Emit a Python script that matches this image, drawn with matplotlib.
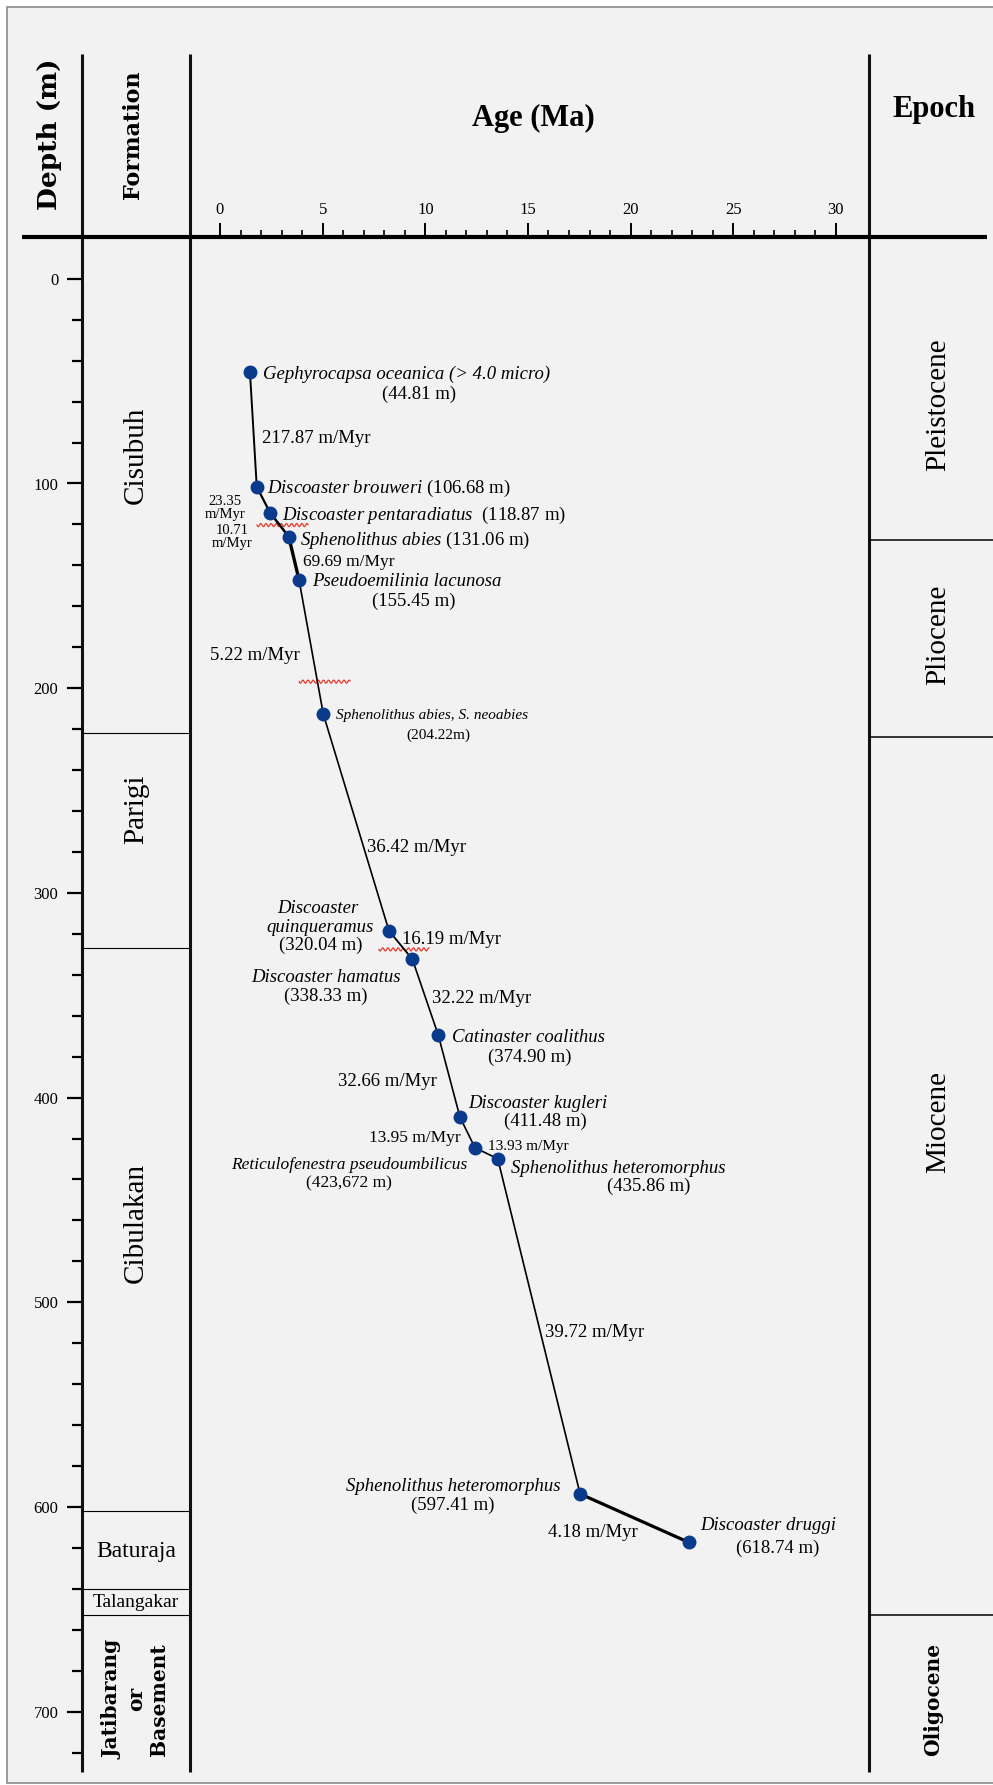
import numpy as np
import matplotlib
matplotlib.use("Agg")
import matplotlib.pyplot as plt
from matplotlib.patches import Rectangle

plt.rcParams['font.family'] = ['Liberation Serif', 'DejaVu Serif']
plt.rcParams['mathtext.fontset'] = 'custom'
plt.rcParams['mathtext.rm'] = 'Liberation Serif'
plt.rcParams['mathtext.it'] = 'Liberation Serif:italic'

W, H = 993, 1785

# --- data ---
# datums, age (Ma) and depth (m) as plotted
ages = [1.46, 1.79, 2.44, 3.35, 3.85, 5.03, 8.23, 9.37, 10.63, 11.69, 12.42, 13.53, 17.54, 22.84]
depths = [45.7, 101.6, 114.3, 126.0, 147.1, 212.6, 318.5, 332.4, 369.4, 409.6, 424.5, 429.9, 593.6, 617.3]
species = ['Gephyrocapsa oceanica (> 4.0 micro)', 'Discoaster brouweri', 'Discoaster pentaradiatus',
           'Sphenolithus abies', 'Pseudoemilinia lacunosa', 'Sphenolithus abies, S. neoabies',
           'Discoaster\nquinqueramus', 'Discoaster hamatus', 'Catinaster coalithus', 'Discoaster kugleri',
           'Reticulofenestra pseudoumbilicus', 'Sphenolithus heteromorphus', 'Sphenolithus heteromorphus',
           'Discoaster druggi']
depth_text = ['(44.81 m)', '(106.68 m)', '(118.87 m)', '(131.06 m)', '(155.45 m)', '(204.22m)', '(320.04 m)',
              '(338.33 m)', '(374.90 m)', '(411.48 m)', '(423,672 m)', '(435.86 m)', '(597.41 m)', '(618.74 m)']
rate_text = ['217.87 m/Myr', '23.35\nm/Myr', '10.71\nm/Myr', '69.69 m/Myr', '5.22 m/Myr', '36.42 m/Myr',
             '16.19 m/Myr', '32.22 m/Myr', '32.66 m/Myr', '13.95 m/Myr', '13.93 m/Myr', '39.72 m/Myr',
             '4.18 m/Myr']

# hiatus (red wavy) marks: depth, age from, age to
hiatus_depth = [120.3, 196.8, 327.6]
hiatus_from = [1.80, 3.85, 7.74]
hiatus_to = [4.29, 6.33, 10.18]

formation_names = ['Cisubuh', 'Parigi', 'Cibulakan', 'Baturaja', 'Talangakar', 'Jatibarang\nor\nBasement']
formation_bounds = [222, 327, 602, 640, 653]
formation_label_depth = [86, 259, 461, 621.5, 646.5, 694]

epoch_names = ['Pleistocene', 'Pliocene', 'Miocene', 'Oligocene']
epoch_bounds = [127.5, 224, 653]
epoch_label_depth = [61.6, 174, 412, 694]

age_major = list(range(0, 31, 5))
age_minor = [i for i in range(31) if i % 5]
depth_major = list(range(0, 701, 100))
depth_minor = [i for i in range(0, 721, 20) if i % 100]

# --- layout (pixels) ---
PX_ZERO, PX_PER_MA = 220.0, 20.53
PY_ZERO, PY_PER_M = 278.8, 2.047
TOP, BOT = 237, 1772
X_DEPTH, X_FORM, X_EPOCH = 82, 190, 869

def fx(p):
    return p / W

def fy(p):
    return 1 - p / H

def it(s):
    return r'$\mathit{' + s.replace(' ', r'\ ') + '}$'

fig = plt.figure(figsize=(W / 100, H / 100), dpi=100, facecolor='white')

# overlay in pixel coordinates
ov = fig.add_axes([0, 0, 1, 1], zorder=0)
ov.set_xlim(0, W)
ov.set_ylim(H, 0)
ov.axis('off')
ov.add_patch(Rectangle((7, 7), 1000, 1776, facecolor='#f2f2f2', edgecolor='#8a8a8a', lw=1.2))
for x in (X_DEPTH, X_FORM, X_EPOCH):
    ov.plot([x, x], [53.5, BOT], color='#111111', lw=2.2, solid_capstyle='butt')
ov.plot([22, 987], [TOP, TOP], color='black', lw=3, solid_capstyle='butt')

ov.text(50, 134, 'Depth (m)', rotation=90, ha='center', va='center', family='DejaVu Serif',
        weight='bold', fontsize=19)
ov.text(133, 135, 'Formation', rotation=90, ha='center', va='center', family='DejaVu Serif',
        weight='bold', fontsize=16)
ov.text(533, 118, 'Age (Ma)', ha='center', va='center', fontsize=22, weight='bold')
ov.text(934, 109, 'Epoch', ha='center', va='center', fontsize=22, weight='bold')

ylim = ((BOT - PY_ZERO) / PY_PER_M, (TOP - PY_ZERO) / PY_PER_M)
ax_h = (BOT - TOP) / H

# main age-depth panel
ax = fig.add_axes([fx(X_FORM), fy(BOT), (X_EPOCH - X_FORM) / W, ax_h], zorder=2)
ax.set_facecolor('none')
ax.set_xlim((X_FORM - PX_ZERO) / PX_PER_MA, (X_EPOCH - PX_ZERO) / PX_PER_MA)
ax.set_ylim(*ylim)
for s in ax.spines.values():
    s.set_visible(False)
ax.xaxis.tick_top()
ax.set_xticks(age_major)
ax.set_xticks(age_minor, minor=True)
ax.tick_params(axis='x', which='major', direction='out', length=10, width=1.4, pad=4, labelsize=12)
ax.tick_params(axis='x', which='minor', direction='out', length=5, width=1.2)
ax.tick_params(axis='y', left=False, labelleft=False)

seg_width = [1.4, 1.6, 1.8, 2.4, 1.2, 1.2, 1.3, 1.2, 1.2, 1.2, 1.2, 1.2, 2.3]
for i, lw in enumerate(seg_width):
    ax.plot(ages[i:i + 2], depths[i:i + 2], color='black', lw=lw, solid_capstyle='round', zorder=3)
ax.plot(ages, depths, 'o', ms=9, color='#0a3a8c', mec='#0a3a8c', zorder=4)

for d, a0, a1 in zip(hiatus_depth, hiatus_from, hiatus_to):
    t = np.linspace(a0, a1, 300)
    ax.plot(t, d + 0.75 * np.sin(2 * np.pi * (t - a0) / 0.25), color='#e8392a', lw=0.9, zorder=2)

# datum labels: (index, part, dx, dy, ha, size) - offsets in pixels, dy downward
label_layout = [
    (0, 'name', 12.7, 0, 'left', 13.5), (0, 'depth', 169, 19.7, 'center', 13.5),
    (1, 'both', 10.6, -1.4, 'left', 13.5),
    (2, 'both', 11.7, -0.7, 'left', 13.5),
    (3, 'both', 11.3, 0.6, 'left', 13.5),
    (4, 'name', 12.7, 0, 'left', 13.5), (4, 'depth', 114.3, 19.3, 'center', 13.5),
    (5, 'name', 12.7, 0, 'left', 11), (5, 'depth', 115, 19.3, 'center', 11),
    (6, 'name0', -71.5, -24, 'center', 13.5), (6, 'name1', -69.3, -5.4, 'center', 13.5),
    (6, 'depth', -68.7, 12.6, 'center', 13.5),
    (7, 'name', -86.5, 16.4, 'center', 13.5), (7, 'depth', -86.5, 34.7, 'center', 13.5),
    (8, 'name', 13.4, 0.3, 'left', 13.5), (8, 'depth', 92, 20, 'center', 13.5),
    (9, 'name', 8.3, -15.6, 'left', 13.5), (9, 'depth', 85, 2, 'center', 13.5),
    (10, 'name', -126, 15.6, 'center', 12.5), (10, 'depth', -126, 34, 'center', 12.5),
    (11, 'name', 13, 7.3, 'left', 13.5), (11, 'depth', 151.3, 25.3, 'center', 13.5),
    (12, 'name', -127.2, -9, 'center', 13.5), (12, 'depth', -127.2, 9.3, 'center', 13.5),
    (13, 'name', 11, -18.6, 'left', 13.5), (13, 'depth', 89, 4.2, 'center', 13.5),
]
for i, part, dx, dy, ha, size in label_layout:
    style = 'italic'
    if part == 'depth':
        txt, style = depth_text[i], 'normal'
    elif part == 'both':
        sep = '  ' if i == 2 else ' '
        txt, style = it(species[i]) + sep + depth_text[i], 'normal'
    elif part.startswith('name') and len(part) > 4:
        txt = species[i].split('\n')[int(part[4:])]
    else:
        txt = species[i]
    ax.annotate(txt, xy=(ages[i], depths[i]), xytext=(dx, -dy), textcoords='offset pixels',
                ha=ha, va='center_baseline', fontsize=size, style=style, annotation_clip=False, zorder=5)

# sedimentation rate labels: (x, y, line gap, ha, size) in pixels
rate_layout = [
    (261.7, 436, 0, 'left', 13.5), (225, 500, 13.3, 'center', 10.5), (232, 529.3, 12.6, 'center', 10.5),
    (302.7, 560, 0, 'left', 12.5), (210, 653.3, 0, 'left', 13.5), (366.7, 845, 0, 'left', 13.5),
    (401.7, 937.3, 0, 'left', 13.5), (432.3, 996.7, 0, 'left', 13.5), (338, 1079, 0, 'left', 13.5),
    (369, 1136, 0, 'left', 12.5), (488.3, 1145, 0, 'left', 11), (545, 1330, 0, 'left', 13.5),
    (548, 1530.7, 0, 'left', 13.5),
]
for txt, (x, y, gap, ha, size) in zip(rate_text, rate_layout):
    for k, line in enumerate(txt.split('\n')):
        ov.text(x, y + k * gap, line, ha=ha, va='center_baseline', fontsize=size)

# formation column with the depth scale
axf = fig.add_axes([fx(X_DEPTH), fy(BOT), (X_FORM - X_DEPTH) / W, ax_h], zorder=2)
axf.set_facecolor('none')
axf.set_xlim(0, 1)
axf.set_ylim(*ylim)
for s in axf.spines.values():
    s.set_visible(False)
axf.set_xticks([])
axf.set_yticks(depth_major)
axf.set_yticks(depth_minor, minor=True)
axf.tick_params(axis='y', which='major', direction='out', length=10.5, width=1.6, pad=6.5, labelsize=12)
axf.tick_params(axis='y', which='minor', direction='out', length=7, width=1.6)
for d in formation_bounds:
    axf.axhline(d, color='black', lw=0.8)
tr = axf.get_yaxis_transform()
for name, d in zip(formation_names, formation_label_depth):
    if name == 'Baturaja':
        axf.text(0.5, d, name, transform=tr, ha='center', va='center', fontsize=17)
    elif name == 'Talangakar':
        axf.text(0.5, d, name, transform=tr, ha='center', va='center', fontsize=14)
    elif name.startswith('Jatibarang'):
        axf.text(0.5, d, name, transform=tr, ha='center', va='center', rotation=90,
                 multialignment='center', family='DejaVu Serif', weight='bold', fontsize=14.5)
    else:
        axf.text(0.5, d, name, transform=tr, ha='center', va='center', rotation=90, fontsize=21)

# epoch column
axe = fig.add_axes([fx(X_EPOCH), fy(BOT), (W - X_EPOCH) / W, ax_h], zorder=2)
axe.set_facecolor('none')
axe.set_xlim(0, 1)
axe.set_ylim(*ylim)
axe.axis('off')
for d in epoch_bounds:
    axe.axhline(d, color='black', lw=1.1)
tr = axe.get_yaxis_transform()
for name, d in zip(epoch_names, epoch_label_depth):
    if name == 'Oligocene':
        axe.text(0.52, d, name, transform=tr, ha='center', va='center', rotation=90,
                 family='DejaVu Serif', weight='bold', fontsize=14.5)
    else:
        axe.text(0.56, d, name, transform=tr, ha='center', va='center', rotation=90, fontsize=21)

fig.savefig('out.png', dpi=100, facecolor='white')
